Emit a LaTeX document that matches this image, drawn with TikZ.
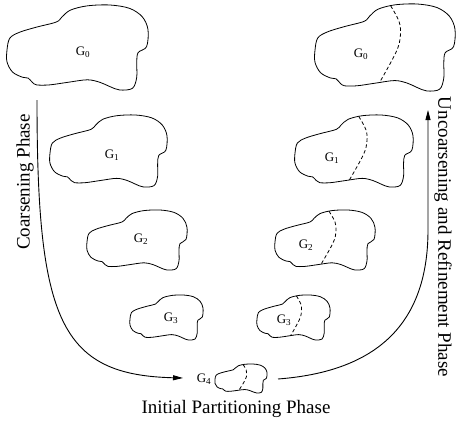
\documentclass[tikz,border=0pt]{standalone}
\usepackage{fontspec}
\setmainfont{Liberation Serif}
\usetikzlibrary{arrows.meta}

\tikzset{
  outl/.style={line width=0.8pt, line join=round},
  cut/.style={line width=0.8pt, dash pattern=on 3.5pt off 2.5pt},
  flow/.style={line width=0.9pt, -{Triangle[length=10pt,width=5pt]}},
  glabel/.style={font=\fontsize{13}{15}\selectfont, inner sep=0pt},
  phase/.style={font=\fontsize{19}{22}\selectfont, inner sep=0pt},
  % outline of a graph, normalised to a unit box (y grows downwards)
  region/.pic={
    \draw[outl] plot[smooth cycle, tension=0.55] coordinates {
      (0,0.53) (0.02,0.39) (0.09,0.32) (0.21,0.26) (0.35,0.20) (0.39,0.14)
      (0.45,0.06) (0.57,0.01) (0.73,0) (0.87,0.04) (0.96,0.14) (1,0.29)
      (0.99,0.49) (0.93,0.56) (0.92,0.68) (0.92,0.85) (0.89,0.98) (0.80,1)
      (0.73,0.96) (0.66,0.91) (0.57,0.88) (0.43,0.91) (0.30,0.94) (0.21,0.94)
      (0.18,0.91) (0.15,0.86) (0.11,0.85) (0.04,0.79) (0,0.67)};
  },
  % the same outline split in two parts by a dashed cut
  splitregion/.pic={
    \draw[outl] plot[smooth cycle, tension=0.55] coordinates {
      (0,0.53) (0.02,0.39) (0.09,0.32) (0.21,0.26) (0.35,0.20) (0.39,0.14)
      (0.45,0.06) (0.57,0.01) (0.73,0) (0.87,0.04) (0.96,0.14) (1,0.29)
      (0.99,0.49) (0.93,0.56) (0.92,0.68) (0.92,0.85) (0.89,0.98) (0.80,1)
      (0.73,0.96) (0.66,0.91) (0.57,0.88) (0.43,0.91) (0.30,0.94) (0.21,0.94)
      (0.18,0.91) (0.15,0.86) (0.11,0.85) (0.04,0.79) (0,0.67)};
    \draw[cut] plot[smooth, tension=0.6] coordinates {
      (0.54,0.02) (0.60,0.2) (0.61,0.36) (0.58,0.55) (0.46,0.905)};
  }
}

\begin{document}
\begin{tikzpicture}[x=1pt, y=-1pt]
\useasboundingbox (0,0) rectangle (456,423);

% coarsening side
\pic[shift={(7,5)},   xscale=141, yscale=85] {region};
\pic[shift={(50,115)}, xscale=117, yscale=72] {region};
\pic[shift={(87,210)}, xscale=100, yscale=60] {region};
\pic[shift={(130,295)}, xscale=73, yscale=45] {region};

% partitioned coarsest graph
\pic[shift={(215,364)}, xscale=52, yscale=29] {splitregion};

% uncoarsening side
\pic[shift={(315,4)},   xscale=140, yscale=87] {splitregion};
\pic[shift={(295,115)}, xscale=118, yscale=72] {splitregion};
\pic[shift={(275,210)}, xscale=100, yscale=60] {splitregion};
\pic[shift={(257,295)}, xscale=73, yscale=45] {splitregion};

% graph labels
\node[glabel] (l0) at (83,52)  {G\textsubscript{0}};
\node[glabel] (l1) at (112,155) {G\textsubscript{1}};
\node[glabel] (l2) at (141,239) {G\textsubscript{2}};
\node[glabel] (l3) at (171,318) {G\textsubscript{3}};
\node[glabel] (l4) at (204,379) {G\textsubscript{4}};
\node[glabel] (r0) at (361,54)  {G\textsubscript{0}};
\node[glabel] (r1) at (332,158) {G\textsubscript{1}};
\node[glabel] (r2) at (306,245) {G\textsubscript{2}};
\node[glabel] (r3) at (284,320) {G\textsubscript{3}};

% phase arrows
\coordinate (cs) at (37,100);
\coordinate (ce) at (183,378);
\draw[flow] (cs) .. controls (37,320) and (60,375) .. (ce);

\coordinate (us) at (278,379);
\coordinate (ub) at (428,230);
\coordinate (ue) at (428,110);
\draw[flow] (us) .. controls (370,372) and (428,330) .. (ub) -- (ue);

% phase names
\node[phase, rotate=90]  (coarse) at (25,182)  {Coarsening Phase};
\node[phase, rotate=-90] (uncoarse) at (443,237) {Uncoarsening and Refinement Phase};
\node[phase] (init) at (236,409) {Initial Partitioning Phase};
\end{tikzpicture}
\end{document}
